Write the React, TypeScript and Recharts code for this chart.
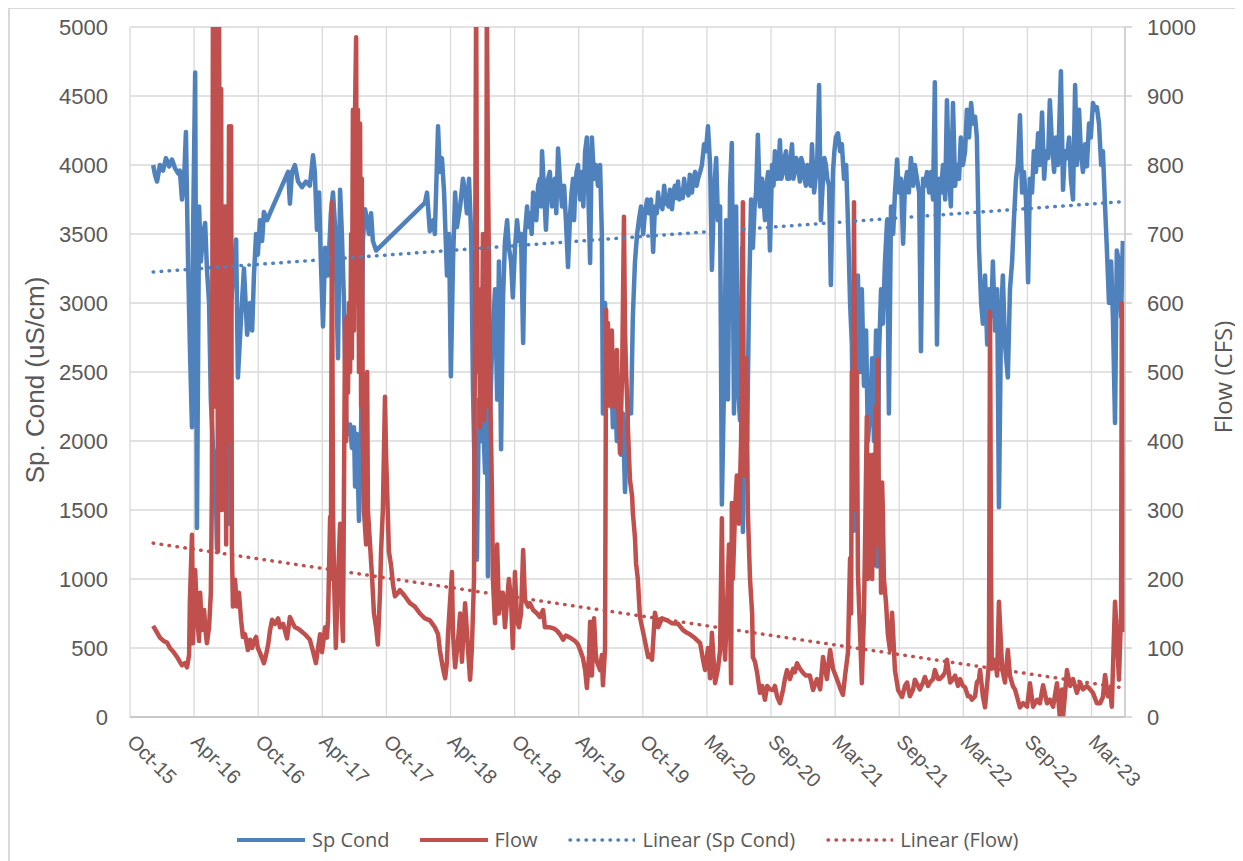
import { LineChart, Line, XAxis, YAxis, CartesianGrid } from "recharts"

// x = days after 22 Oct 2015 (first date tick), axis ticks every 180 days
const spCond: [number, number][] = [
  [65, 4000], [70, 3930], [76, 3880], [84, 4000], [93, 3960], [101, 4050], [110, 3990], [118, 4040], [126, 3980], [135, 3940],
  [140, 3960], [146, 3750], [152, 3900], [157, 4240], [163, 3300], [168, 2700], [174, 2100], [177, 3500], [183, 4670], [188, 1370],
  [194, 3700], [199, 3300], [205, 3500], [211, 3580], [216, 3250], [222, 3000], [227, 2300], [233, 1950], [239, 1900], [244, 1220],
  [250, 2200], [256, 3350], [261, 2600], [270, 2100], [275, 3000], [278, 1400], [284, 3000], [289, 3200], [298, 3460], [303, 2460],
  [312, 2900], [320, 3250], [329, 2770], [337, 3000], [343, 2800], [348, 3200], [354, 3500], [359, 3350], [365, 3600], [371, 3450],
  [376, 3660], [385, 3600], [393, 3650],
  [444, 3950], [449, 3720], [455, 3950], [463, 4000], [472, 3880], [483, 3840], [494, 3880], [505, 3850], [514, 4070], [519, 3950],
  [525, 3530], [531, 3800], [536, 3300], [542, 2830], [548, 3400], [556, 3200], [564, 3650], [570, 3800], [576, 3550], [584, 2600],
  [590, 3820], [595, 3500], [601, 3000], [607, 2150], [612, 2050], [618, 2120], [623, 1950], [629, 2100], [632, 1670], [637, 2050],
  [643, 1420], [649, 2100], [654, 3450], [660, 3680], [666, 3600], [671, 3500], [677, 3650], [682, 3450], [691, 3380],
  [828, 3725], [834, 3800], [842, 3520], [851, 3600], [856, 3500], [865, 4280], [870, 3950], [876, 4050], [882, 3800], [890, 3200],
  [896, 3500], [901, 2470], [907, 3300], [913, 3800], [918, 3550], [927, 3700], [935, 3900], [941, 3800], [946, 3650], [952, 3900],
  [958, 3500], [963, 2400], [969, 1600], [974, 1140], [980, 2300], [986, 2000], [991, 2200], [997, 1770], [1002, 2400], [1005, 1020],
  [1011, 2200], [1017, 2700], [1025, 3100], [1031, 2300], [1036, 3300], [1042, 1940], [1047, 3000], [1053, 3450], [1059, 3600], [1064, 3400],
  [1070, 3300], [1075, 3040], [1081, 3400], [1087, 3600], [1092, 3450], [1098, 3500], [1104, 2710], [1109, 3500], [1115, 3700], [1119, 3550],
  [1123, 3650], [1128, 3500], [1132, 3800], [1137, 3700], [1141, 3600], [1146, 3850], [1151, 3900], [1154, 3700], [1157, 4100], [1163, 3800],
  [1168, 3530], [1174, 3900], [1179, 3950], [1185, 3700], [1189, 3850], [1193, 3900], [1197, 3650], [1202, 4120], [1207, 3900], [1213, 3700],
  [1219, 3850], [1224, 3600], [1230, 3260], [1236, 3650], [1240, 3800], [1244, 3900], [1247, 3600], [1250, 3800], [1254, 3950], [1258, 4000],
  [1264, 3750], [1269, 3950], [1273, 3700], [1278, 4100], [1283, 4200], [1289, 3600], [1292, 3290], [1297, 4200], [1303, 3900], [1308, 4000],
  [1314, 3850], [1320, 4000], [1325, 3500], [1328, 2200], [1334, 3000], [1339, 2600], [1345, 2300], [1351, 2550], [1356, 2100], [1362, 2400],
  [1367, 2000], [1373, 2300], [1379, 1900], [1384, 2200], [1390, 1630], [1396, 2100], [1401, 2300], [1407, 2200], [1412, 2900], [1418, 3300],
  [1424, 3500], [1429, 3600], [1435, 3700], [1441, 3500], [1446, 3650], [1452, 3750], [1457, 3650], [1463, 3750], [1469, 3370], [1474, 3700],
  [1479, 3650], [1483, 3800], [1487, 3700], [1491, 3750], [1495, 3680], [1500, 3850], [1504, 3720], [1508, 3780], [1512, 3700], [1516, 3820],
  [1522, 3680], [1526, 3800], [1530, 3850], [1535, 3760], [1539, 3880], [1543, 3750], [1547, 3820], [1552, 3760], [1556, 3900], [1560, 3800],
  [1564, 3850], [1568, 3780], [1572, 3930], [1578, 3800], [1582, 3900], [1587, 3950], [1591, 3850], [1595, 3900], [1601, 3950], [1606, 4000],
  [1612, 4150], [1617, 4100], [1623, 4280], [1629, 4000], [1634, 3240], [1640, 3800], [1646, 4050], [1651, 3600], [1657, 3700], [1662, 1540],
  [1668, 2400], [1674, 3600], [1679, 2300], [1685, 3850], [1690, 4160], [1696, 2200], [1702, 3700], [1707, 2400], [1713, 2150], [1719, 3400],
  [1721, 1340], [1727, 2400], [1733, 2000], [1738, 3000], [1744, 3750], [1749, 3400], [1754, 3700], [1758, 3800], [1763, 4220], [1769, 3700],
  [1775, 3900], [1779, 3750], [1783, 3600], [1787, 3850], [1792, 3950], [1797, 3380], [1803, 4000], [1807, 3850], [1811, 4100], [1815, 3900],
  [1820, 3900], [1825, 4180], [1829, 3900], [1834, 3950], [1838, 4050], [1842, 4100], [1846, 3900], [1851, 3900], [1855, 4050], [1859, 4150],
  [1863, 3900], [1867, 3950], [1871, 4050], [1876, 4000], [1881, 3880], [1885, 4050], [1890, 4000], [1894, 3900], [1898, 3850], [1902, 4000],
  [1907, 3950], [1911, 3850], [1915, 4150], [1921, 3800], [1925, 3900], [1929, 3950], [1935, 4580], [1940, 3600], [1946, 3900], [1950, 4050],
  [1954, 4000], [1958, 3900], [1963, 3850], [1968, 3130], [1974, 3950], [1978, 4100], [1982, 4200], [1988, 4230], [1994, 4100], [1999, 4150],
  [2005, 3900], [2011, 4000], [2016, 3600], [2022, 3000], [2027, 2700], [2033, 1350], [2039, 2900], [2044, 3200], [2050, 2500], [2055, 3100],
  [2061, 2400], [2067, 2800], [2072, 2000], [2078, 2200], [2084, 2600], [2089, 2000], [2095, 2800], [2098, 1090], [2103, 2600], [2109, 3100],
  [2114, 2850], [2120, 3300], [2126, 3600], [2131, 2200], [2137, 3700], [2143, 3500], [2148, 3800], [2154, 4040], [2159, 3800], [2165, 3900],
  [2171, 3430], [2176, 3850], [2182, 3950], [2187, 3800], [2193, 4050], [2199, 3850], [2204, 4000], [2210, 3900], [2216, 3800], [2221, 2650],
  [2227, 3900], [2232, 3850], [2238, 3950], [2244, 3800], [2249, 3950], [2255, 3750], [2260, 4600], [2266, 2700], [2272, 3900], [2277, 3800],
  [2283, 4000], [2289, 3750], [2294, 4470], [2300, 3900], [2305, 3700], [2311, 4450], [2317, 3850], [2322, 4000], [2328, 3900], [2333, 4200],
  [2339, 4000], [2345, 4100], [2350, 4400], [2356, 4200], [2362, 4450], [2367, 4300], [2373, 4350], [2378, 4200], [2384, 3400], [2390, 3000],
  [2395, 2850], [2401, 3200], [2407, 2700], [2412, 3100], [2418, 2900], [2423, 3300], [2429, 2800], [2435, 3100], [2440, 1520], [2446, 2900],
  [2451, 3200], [2457, 2700], [2465, 2460], [2471, 3100], [2477, 3300], [2482, 3600], [2488, 3900], [2493, 4000], [2499, 4360], [2505, 3800],
  [2510, 3950], [2516, 3750], [2522, 3150], [2527, 3900], [2533, 3800], [2538, 4100], [2544, 3950], [2550, 4230], [2555, 4000], [2561, 4380],
  [2567, 3900], [2572, 4100], [2578, 4050], [2583, 4470], [2589, 4150], [2595, 3950], [2600, 4200], [2606, 4000], [2614, 4680], [2620, 3820],
  [2625, 4100], [2631, 4050], [2637, 4200], [2642, 3900], [2648, 3750], [2654, 4580], [2659, 4000], [2665, 4400], [2670, 4100], [2676, 3950],
  [2682, 4150], [2687, 3990], [2693, 4300], [2698, 4200], [2704, 4450], [2710, 4400], [2715, 4420], [2721, 4300], [2727, 4000], [2732, 4100],
  [2738, 3700], [2743, 3400], [2749, 3000], [2755, 3300], [2760, 2900], [2766, 2130], [2771, 3380], [2777, 3300], [2783, 2900], [2788, 3450],
]

const flow: [number, number][] = [
  [65, 132], [73, 125], [84, 115], [95, 110], [104, 108], [112, 100], [121, 95], [132, 87], [140, 80], [146, 75],
  [154, 78], [160, 72], [166, 90], [168, 165], [174, 264], [177, 107], [183, 213], [188, 150], [194, 110], [197, 180],
  [202, 126], [208, 155], [213, 120], [216, 107], [222, 130], [227, 180], [230, 330], [233, 1050], [236, 450], [239, 1050],
  [241, 540], [244, 1050], [247, 240], [250, 1050], [253, 400], [256, 910], [258, 300], [261, 740], [264, 350], [267, 740],
  [270, 250], [272, 740], [275, 460], [278, 856], [281, 400], [284, 856], [286, 250], [289, 160], [295, 199], [300, 160],
  [306, 180], [312, 140], [317, 116], [323, 120], [331, 97], [337, 112], [343, 100], [348, 110], [354, 116], [359, 100],
  [365, 93], [371, 85], [376, 78], [382, 90], [388, 105], [393, 125], [399, 141], [407, 135], [416, 143], [421, 130],
  [430, 135], [435, 125], [441, 114], [449, 145], [458, 135], [463, 130], [472, 128], [477, 126], [486, 122], [491, 120],
  [500, 115], [505, 112], [514, 95], [522, 78], [528, 100], [534, 120], [539, 94], [548, 130], [553, 115], [556, 140],
  [562, 290], [564, 200], [567, 746], [570, 300], [573, 200], [578, 100], [584, 200], [590, 280], [595, 150], [598, 110],
  [604, 575], [607, 400], [609, 580], [612, 470], [615, 600], [618, 500], [621, 700], [623, 520], [626, 880], [629, 560],
  [632, 880], [635, 985], [637, 600], [640, 880], [643, 500], [646, 860], [649, 450], [651, 780], [654, 400], [657, 300],
  [663, 250], [666, 500], [668, 300], [674, 250], [680, 200], [685, 150], [691, 130], [696, 105], [702, 180], [705, 240],
  [710, 300], [716, 464], [719, 380], [722, 330], [727, 240], [733, 220], [739, 190], [744, 175], [753, 180], [758, 184],
  [772, 175], [786, 165], [800, 160], [814, 150], [828, 143], [842, 140], [856, 130], [865, 120], [870, 97], [879, 70],
  [885, 56], [890, 80], [893, 120], [899, 170], [904, 210], [907, 120], [913, 72], [921, 110], [927, 150], [932, 80],
  [941, 165], [949, 100], [955, 54], [960, 100], [966, 200], [972, 1050], [974, 700], [977, 500], [980, 600], [983, 420],
  [986, 620], [988, 480], [991, 700], [994, 430], [997, 600], [1000, 450], [1002, 1050], [1005, 800], [1008, 650], [1011, 480],
  [1014, 400], [1017, 300], [1019, 200], [1025, 136], [1031, 250], [1036, 150], [1042, 180], [1047, 180], [1053, 130], [1059, 170],
  [1064, 200], [1070, 170], [1075, 100], [1081, 210], [1087, 140], [1092, 130], [1098, 150], [1104, 242], [1109, 170], [1118, 160],
  [1123, 165], [1132, 155], [1143, 150], [1151, 145], [1160, 155], [1165, 130], [1179, 130], [1191, 128], [1199, 125], [1207, 120],
  [1216, 112], [1224, 118], [1236, 115], [1244, 112], [1250, 110], [1258, 105], [1264, 97], [1272, 85], [1278, 68], [1283, 42],
  [1289, 90], [1292, 138], [1297, 60], [1303, 143], [1308, 90], [1311, 80], [1320, 68], [1325, 90], [1328, 46], [1334, 100],
  [1337, 590], [1339, 450], [1342, 571], [1345, 480], [1348, 536], [1351, 450], [1353, 560], [1356, 480], [1359, 522], [1362, 450],
  [1367, 532], [1373, 420], [1376, 382], [1382, 500], [1387, 725], [1390, 560], [1393, 500], [1396, 460], [1398, 420], [1404, 343],
  [1410, 320], [1412, 296], [1418, 260], [1421, 223], [1426, 200], [1432, 145], [1438, 130], [1446, 110], [1455, 87], [1460, 90],
  [1466, 83], [1474, 151], [1483, 130], [1494, 143], [1508, 140], [1522, 136], [1539, 135], [1553, 126], [1564, 122], [1572, 120],
  [1587, 114], [1601, 107], [1609, 83], [1615, 68], [1623, 100], [1629, 56], [1634, 122], [1643, 49], [1651, 70], [1657, 97],
  [1662, 288], [1665, 150], [1671, 83], [1676, 150], [1682, 250], [1688, 49], [1690, 310], [1693, 200], [1699, 300], [1704, 350],
  [1710, 280], [1716, 400], [1721, 746], [1724, 350], [1727, 450], [1730, 520], [1733, 400], [1735, 296], [1741, 200], [1747, 150],
  [1749, 87], [1755, 80], [1761, 64], [1769, 35], [1775, 45], [1783, 25], [1789, 45], [1797, 40], [1806, 39], [1811, 45],
  [1817, 30], [1825, 20], [1834, 40], [1839, 55], [1845, 68], [1853, 55], [1862, 70], [1867, 65], [1873, 78], [1881, 70],
  [1890, 64], [1898, 60], [1909, 60], [1918, 39], [1929, 55], [1938, 40], [1946, 87], [1957, 55], [1966, 97], [1974, 70],
  [1985, 55], [1994, 42], [2002, 32], [2008, 60], [2016, 93], [2022, 230], [2025, 150], [2027, 500], [2030, 300], [2033, 746],
  [2036, 400], [2039, 300], [2041, 500], [2044, 209], [2050, 122], [2055, 49], [2061, 150], [2064, 250], [2069, 435], [2072, 200],
  [2075, 380], [2078, 220], [2081, 260], [2084, 200], [2086, 380], [2089, 220], [2092, 300], [2095, 450], [2098, 250], [2100, 518],
  [2103, 300], [2106, 330], [2109, 180], [2112, 340], [2114, 300], [2117, 200], [2123, 165], [2128, 120], [2134, 97], [2140, 151],
  [2148, 68], [2157, 39], [2168, 29], [2176, 45], [2182, 50], [2190, 30], [2199, 40], [2204, 54], [2213, 45], [2218, 40],
  [2227, 50], [2232, 58], [2241, 45], [2246, 50], [2255, 55], [2260, 68], [2269, 55], [2274, 55], [2283, 60], [2289, 65],
  [2294, 83], [2303, 50], [2311, 55], [2317, 60], [2325, 45], [2331, 55], [2339, 45], [2345, 43], [2353, 30], [2359, 30],
  [2364, 25], [2373, 30], [2378, 50], [2384, 54], [2387, 68], [2395, 30], [2401, 14], [2409, 60], [2412, 80], [2415, 587],
  [2418, 200], [2420, 70], [2429, 83], [2435, 60], [2440, 167], [2449, 70], [2457, 50], [2465, 97], [2471, 60], [2479, 45],
  [2485, 40], [2491, 29], [2499, 14], [2508, 20], [2519, 15], [2527, 49], [2536, 15], [2547, 25], [2555, 20], [2564, 46],
  [2575, 20], [2583, 25], [2592, 15], [2603, 49], [2611, 0], [2617, 40], [2620, 0], [2625, 30], [2631, 68], [2640, 45],
  [2648, 55], [2659, 35], [2668, 50], [2676, 40], [2687, 45], [2696, 40], [2704, 35], [2715, 20], [2724, 20], [2732, 29],
  [2738, 61], [2746, 30], [2752, 40], [2757, 15], [2762, 101], [2766, 167], [2771, 120], [2777, 54], [2783, 150], [2785, 600],
  [2788, 300], [2791, 123],
]

// trend lines at first / last date
const condTrend: [number, number][] = [[65, 3225], [2791, 3735]]
const flowTrend: [number, number][] = [[65, 252], [2791, 42]]

const xTickLabels = [
  "Oct-15", "Apr-16", "Oct-16", "Apr-17", "Oct-17", "Apr-18", "Oct-18", "Apr-19",
  "Oct-19", "Mar-20", "Sep-20", "Mar-21", "Sep-21", "Mar-22", "Sep-22", "Mar-23",
]
const TICK_STEP = 180
const X_MAX = 2794
const condTicks = [0, 500, 1000, 1500, 2000, 2500, 3000, 3500, 4000, 4500, 5000]
const flowTicks = [0, 100, 200, 300, 400, 500, 600, 700, 800, 900, 1000]

const BLUE = "#4F81BD"
const RED = "#C0504D"
const GRID = "#d9d9d9"
const TEXT = "#595959"
const SANS = "'Liberation Sans', Arial, sans-serif"
const OPEN = "'Open Sans', sans-serif"

const legendItems = [
  { name: "Sp Cond", color: BLUE, dotted: false },
  { name: "Flow", color: RED, dotted: false },
  { name: "Linear (Sp Cond)", color: BLUE, dotted: true },
  { name: "Linear (Flow)", color: RED, dotted: true },
]

const toRows = (pts: [number, number][], key: string) => pts.map(([day, v]) => ({ day, [key]: v }))

function DateTick({ x, y, payload }: any) {
  const label = xTickLabels[Math.round(payload.value / TICK_STEP)] ?? ""
  const ax = x - 4
  const ay = y + 26
  return (
    <text x={ax} y={ay} transform={`rotate(45, ${ax}, ${ay})`} textAnchor="start" fontSize={20} fontFamily={SANS} fill={TEXT}>
      {label}
    </text>
  )
}

export default function App() {
  const xTicks = xTickLabels.map((_, i) => i * TICK_STEP)
  return (
    <div style={{ position: "relative", width: 1235, height: 853 }}>
      <style>{`body { overflow: hidden; }`}</style>
      <div style={{ position: "absolute", left: 0, top: -1, width: 1260, height: 900, border: `2px solid ${GRID}`, boxSizing: "border-box", pointerEvents: "none" }} />
      <LineChart width={1235} height={853} margin={{ top: 19, right: 0, bottom: 84, left: 0 }}>
        <CartesianGrid yAxisId="left" stroke={GRID} strokeWidth={1.3} horizontal vertical />
        <XAxis
          dataKey="day"
          type="number"
          domain={[0, X_MAX]}
          ticks={xTicks}
          allowDataOverflow
          height={60}
          tickSize={0}
          tickMargin={0}
          tickLine={false}
          axisLine={{ stroke: "#bfbfbf", strokeWidth: 1.5 }}
          tick={<DateTick />}
          interval={0}
        />
        <YAxis
          yAxisId="left"
          type="number"
          domain={[0, 5000]}
          ticks={condTicks}
          width={122}
          tickSize={0}
          tickMargin={22}
          axisLine={false}
          tickLine={false}
          tick={{ fill: TEXT, fontSize: 22, fontFamily: SANS }}
          interval={0}
          label={({ viewBox }: any) => {
            const cx = viewBox.x + 27
            const cy = viewBox.y + viewBox.height / 2 + 8
            return (
              <text x={cx} y={cy} transform={`rotate(-90, ${cx}, ${cy})`} textAnchor="middle" dominantBaseline="central" fontSize={26} fontFamily={SANS} fill={TEXT}>
                Sp. Cond (uS/cm)
              </text>
            )
          }}
        />
        <YAxis
          yAxisId="right"
          orientation="right"
          type="number"
          domain={[0, 1000]}
          ticks={flowTicks}
          allowDataOverflow
          width={118}
          tickSize={7}
          tickMargin={15}
          axisLine={{ stroke: "#c8c8c8", strokeWidth: 1.3 }}
          tickLine={{ stroke: "#c8c8c8", strokeWidth: 1.3 }}
          tick={{ fill: TEXT, fontSize: 22, fontFamily: SANS, textAnchor: "start" }}
          interval={0}
          label={({ viewBox }: any) => {
            const cx = viewBox.x + 97
            const cy = viewBox.y + viewBox.height / 2 + 5
            return (
              <text x={cx} y={cy} transform={`rotate(-90, ${cx}, ${cy})`} textAnchor="middle" dominantBaseline="central" fontSize={24} fontFamily={OPEN} fill={TEXT}>
                Flow (CFS)
              </text>
            )
          }}
        />
        <Line
          yAxisId="left"
          data={toRows(spCond, "cond")}
          dataKey="cond"
          name="Sp Cond"
          stroke={BLUE}
          strokeWidth={4.5}
          strokeLinejoin="round"
          dot={false}
          activeDot={false}
          type="linear"
          isAnimationActive={false}
        />
        <Line
          yAxisId="right"
          data={toRows(flow, "flow")}
          dataKey="flow"
          name="Flow"
          stroke={RED}
          strokeWidth={4.5}
          strokeLinejoin="round"
          dot={false}
          activeDot={false}
          type="linear"
          isAnimationActive={false}
        />
        <Line
          yAxisId="left"
          data={toRows(condTrend, "condTrend")}
          dataKey="condTrend"
          name="Linear (Sp Cond)"
          stroke={BLUE}
          strokeWidth={3.5}
          strokeDasharray="0.5 7.5"
          strokeLinecap="round"
          dot={false}
          activeDot={false}
          type="linear"
          isAnimationActive={false}
        />
        <Line
          yAxisId="right"
          data={toRows(flowTrend, "flowTrend")}
          dataKey="flowTrend"
          name="Linear (Flow)"
          stroke={RED}
          strokeWidth={3.5}
          strokeDasharray="0.5 7.5"
          strokeLinecap="round"
          dot={false}
          activeDot={false}
          type="linear"
          isAnimationActive={false}
        />
      </LineChart>
      <div style={{ position: "absolute", left: 229, top: 818, display: "flex", alignItems: "center", gap: 30, fontFamily: OPEN, fontSize: 20, color: TEXT, whiteSpace: "nowrap" }}>
        {legendItems.map((item) => (
          <div key={item.name} style={{ display: "flex", alignItems: "center", gap: 7 }}>
            <svg width={68} height={10}>
              <line
                x1={item.dotted ? 3 : 0}
                y1={5}
                x2={68}
                y2={5}
                stroke={item.color}
                strokeWidth={item.dotted ? 3.5 : 4}
                strokeDasharray={item.dotted ? "0.5 7.5" : undefined}
                strokeLinecap={item.dotted ? "round" : "butt"}
              />
            </svg>
            <span>{item.name}</span>
          </div>
        ))}
      </div>
    </div>
  )
}
